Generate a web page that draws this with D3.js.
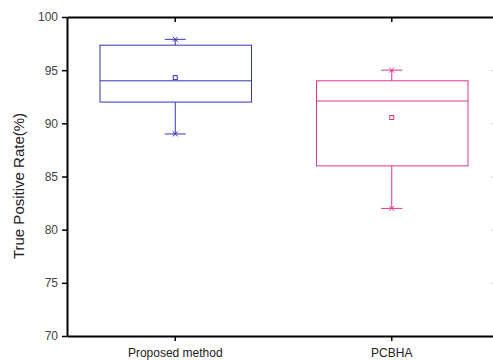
<!DOCTYPE html>
<html>
<head>
<meta charset="utf-8">
<script src="https://cdn.jsdelivr.net/npm/d3@7"></script>
<style>
  body { margin: 0; background: #fff; }
  text { font-family: "Liberation Sans", Arial, sans-serif; }
</style>
</head>
<body>
<script>
//chart values
var categories = ["Proposed method", "PCBHA"];
var q1Values = [92.0, 86.0];
var medianValues = [94.0, 92.1];
var q3Values = [97.35, 94.0];
var whiskerLow = [89.0, 82.0];
var whiskerHigh = [97.9, 95.0];
var meanValues = [94.3, 90.55];
var colors = ["#3535b5", "#d8378f"];
var yTicks = [70, 75, 80, 85, 90, 95, 100];

window.onload = drawChart();

function drawChart(){

    var width = 493,
        height = 360;

    var svg = d3.select("body")
        .append("svg")
        .attr("width", width)
        .attr("height", height);

    var left = 67, right = 500, top = 17, bottom = 336;

    var x = d3.scaleBand()
        .domain(categories)
        .range([left, right])
        .paddingInner(0.3)
        .paddingOuter(0.15);

    var y = d3.scaleLinear()
        .domain([70, 100])
        .range([bottom, top]);

    var boxes = categories.map(function(c, i){
        return {name: c, q1: q1Values[i], med: medianValues[i], q3: q3Values[i],
                lo: whiskerLow[i], hi: whiskerHigh[i], mean: meanValues[i], color: colors[i]};
    });

    //faint right axis ticks (axis itself sits beyond the frame)
    svg.append("g")
        .attr("transform", "translate(" + (right - 9) + ",0)")
        .call(d3.axisRight(y).tickValues(yTicks.slice(1, -1)).tickSize(3).tickFormat(""))
        .call(function(g){
            g.select(".domain").remove();
            g.selectAll("line").attr("stroke", "#d0d0d0");
        });

    //boxes
    var g = svg.selectAll(".box")
        .data(boxes)
        .enter()
        .append("g")
        .attr("class", "box");

    var cx = function(d){ return x(d.name) + x.bandwidth() / 2; };
    var capW = 10.5;

    //whiskers
    g.append("line")
        .attr("x1", cx).attr("x2", cx)
        .attr("y1", function(d){ return y(d.q3); })
        .attr("y2", function(d){ return y(d.hi); })
        .attr("stroke", function(d){ return d.color; });
    g.append("line")
        .attr("x1", cx).attr("x2", cx)
        .attr("y1", function(d){ return y(d.q1); })
        .attr("y2", function(d){ return y(d.lo); })
        .attr("stroke", function(d){ return d.color; });

    //caps
    ["hi", "lo"].forEach(function(k){
        g.append("line")
            .attr("x1", function(d){ return cx(d) - capW; })
            .attr("x2", function(d){ return cx(d) + capW; })
            .attr("y1", function(d){ return y(d[k]); })
            .attr("y2", function(d){ return y(d[k]); })
            .attr("stroke", function(d){ return d.color; });
        //x marker at extreme value
        g.append("path")
            .attr("d", function(d){
                var px = cx(d), py = y(d[k]), s = 2.5;
                return "M" + (px - s) + "," + (py - s) + "L" + (px + s) + "," + (py + s) +
                       "M" + (px - s) + "," + (py + s) + "L" + (px + s) + "," + (py - s);
            })
            .attr("stroke", function(d){ return d.color; })
            .attr("fill", "none");
    });

    //box rect
    g.append("rect")
        .attr("x", function(d){ return x(d.name) + 0.5; })
        .attr("y", function(d){ return y(d.q3); })
        .attr("width", x.bandwidth())
        .attr("height", function(d){ return y(d.q1) - y(d.q3); })
        .attr("fill", "none")
        .attr("stroke", function(d){ return d.color; });

    //median
    g.append("line")
        .attr("x1", function(d){ return x(d.name) + 0.5; })
        .attr("x2", function(d){ return x(d.name) + x.bandwidth() + 0.5; })
        .attr("y1", function(d){ return y(d.med); })
        .attr("y2", function(d){ return y(d.med); })
        .attr("stroke", function(d){ return d.color; });

    //mean square
    g.append("rect")
        .attr("x", function(d){ return cx(d) - 2; })
        .attr("y", function(d){ return y(d.mean) - 2; })
        .attr("width", 4)
        .attr("height", 4)
        .attr("fill", "none")
        .attr("stroke", function(d){ return d.color; });

    //left axis
    svg.append("g")
        .attr("transform", "translate(" + left + ",0)")
        .call(d3.axisLeft(y).tickValues(yTicks).tickSize(5).tickPadding(4).tickSizeOuter(0))
        .call(function(a){
            a.select(".domain").attr("stroke-width", 2);
            a.selectAll("line").attr("stroke-width", 1.5);
            a.selectAll("text").attr("font-size", 12).attr("fill", "#444");
        });

    //bottom axis
    svg.append("g")
        .attr("transform", "translate(0," + bottom + ")")
        .call(d3.axisBottom(x).tickSize(5).tickPadding(7).tickSizeOuter(0))
        .call(function(a){
            a.select(".domain").attr("stroke-width", 2);
            a.selectAll("line").attr("stroke-width", 1.5);
            a.selectAll("text").attr("font-size", 12).attr("fill", "#222");
        });

    //top axis
    svg.append("g")
        .attr("transform", "translate(0," + top + ")")
        .call(d3.axisBottom(x).tickSize(5).tickSizeOuter(0).tickFormat(""))
        .call(function(a){
            a.select(".domain").attr("stroke-width", 2);
            a.selectAll("line").attr("stroke-width", 1.5);
        });

    //y label
    svg.append("text")
        .attr("transform", "translate(24,186) rotate(-90)")
        .attr("text-anchor", "middle")
        .attr("font-size", 15)
        .attr("fill", "#222")
        .text("True Positive Rate(%)");
}
</script>
</body>
</html>
